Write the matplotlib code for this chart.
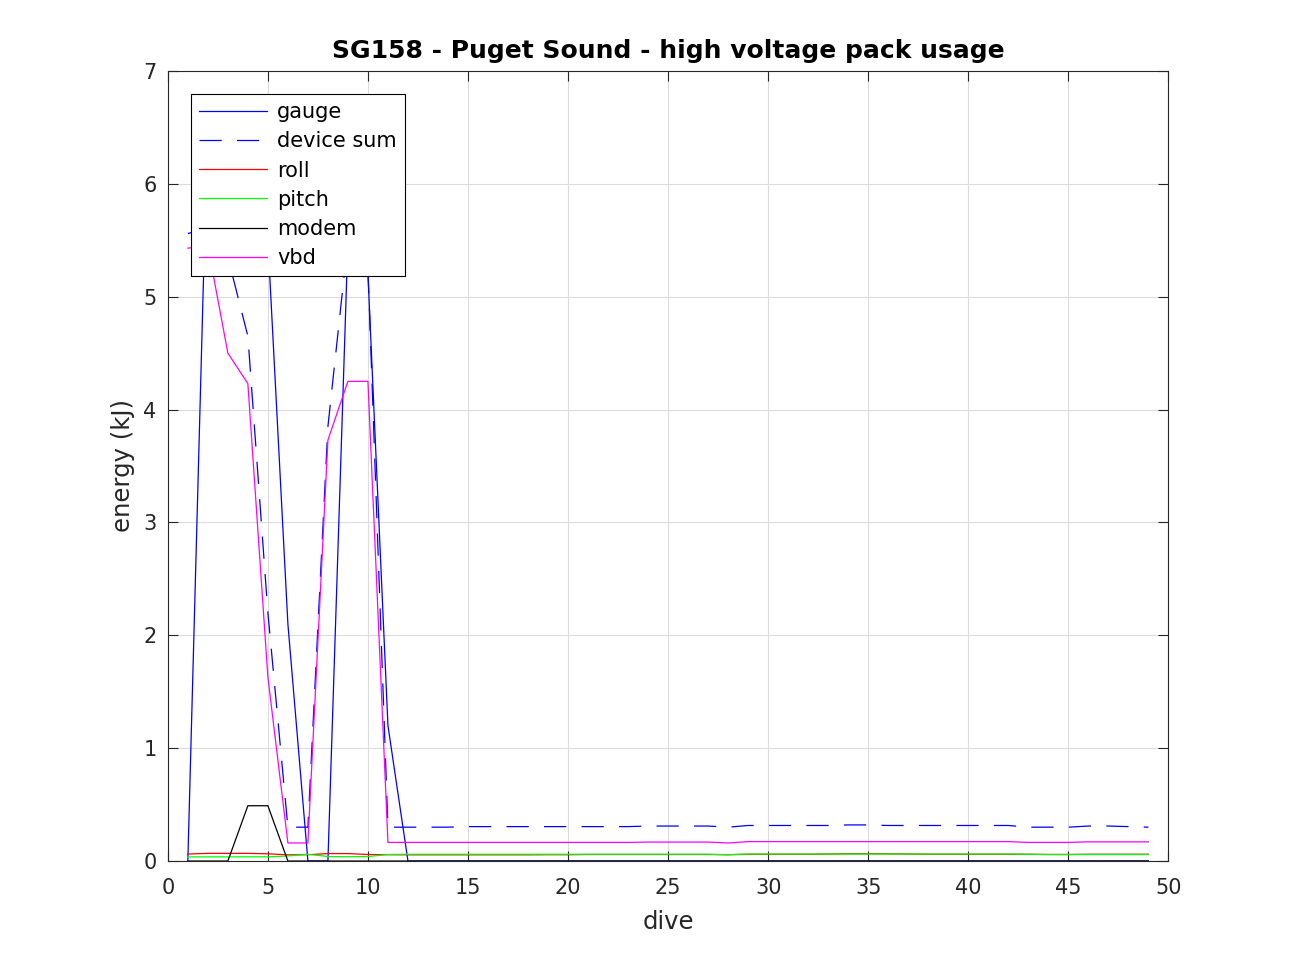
import numpy as np
import matplotlib
matplotlib.use('Agg')
import matplotlib.pyplot as plt

# energy per dive, kJ
dives = list(range(1, 50))

gauge = [0.0, 6.6, 6.4, 6.2, 5.5, 2.1, 0.0, 0.0, 5.5, 5.2, 1.2] + [0.0] * 38

device_sum = [5.56, 5.6, 5.35, 4.65, 2.2, 0.3, 0.3, 3.85, 5.5, 5.25,
              0.30, 0.30, 0.30, 0.30, 0.305, 0.305, 0.305, 0.305, 0.305, 0.305,
              0.305, 0.305, 0.305, 0.31, 0.31, 0.31, 0.31, 0.30, 0.315, 0.315,
              0.315, 0.315, 0.315, 0.32, 0.32, 0.315, 0.315, 0.315, 0.315, 0.315,
              0.315, 0.315, 0.30, 0.30, 0.30, 0.31, 0.31, 0.305, 0.30]

roll = [0.062, 0.068, 0.068, 0.068, 0.064, 0.055, 0.056, 0.066, 0.066, 0.058,
        0.056, 0.055, 0.055, 0.055, 0.055, 0.055, 0.055, 0.055, 0.056, 0.056,
        0.058, 0.058, 0.058, 0.058, 0.058, 0.058, 0.058, 0.056, 0.06, 0.06,
        0.06, 0.06, 0.062, 0.065, 0.065, 0.064, 0.062, 0.06, 0.06, 0.06,
        0.06, 0.06, 0.06, 0.058, 0.058, 0.06, 0.06, 0.06, 0.06]

pitch = [0.036, 0.037, 0.037, 0.037, 0.037, 0.045, 0.06, 0.04, 0.038, 0.04,
         0.058, 0.06, 0.06, 0.06, 0.06, 0.06, 0.06, 0.06, 0.06, 0.06,
         0.06, 0.06, 0.06, 0.06, 0.06, 0.06, 0.06, 0.056, 0.062, 0.062,
         0.062, 0.062, 0.062, 0.062, 0.062, 0.062, 0.062, 0.062, 0.062, 0.062,
         0.062, 0.062, 0.06, 0.058, 0.058, 0.058, 0.058, 0.058, 0.058]

modem = [0.0, 0.0, 0.0, 0.49, 0.49] + [0.0] * 44

vbd = [5.43, 5.45, 4.5, 4.23, 1.63, 0.16, 0.16, 3.73, 4.25, 4.25,
       0.165, 0.165, 0.165, 0.165, 0.165, 0.165, 0.165, 0.165, 0.165, 0.165,
       0.165, 0.165, 0.165, 0.168, 0.168, 0.168, 0.168, 0.16, 0.172, 0.172,
       0.172, 0.172, 0.172, 0.172, 0.172, 0.172, 0.172, 0.172, 0.172, 0.172,
       0.172, 0.172, 0.165, 0.165, 0.165, 0.17, 0.17, 0.17, 0.17]

plt.rcParams['font.family'] = ['DejaVu Sans']
plt.rcParams['lines.scale_dashes'] = False

fig = plt.figure(figsize=(12.91, 9.68), dpi=100)
ax = fig.add_axes([0.130, 0.1105, 0.775, 0.8162])

lw = 0.9
ax.plot(dives, gauge, color='#0000ff', linewidth=lw, label='gauge')
ax.plot(dives, device_sum, color='#0000ff', linewidth=lw, dashes=(16, 11), label='device sum')
ax.plot(dives, roll, color='#ff0000', linewidth=lw, label='roll')
ax.plot(dives, pitch, color='#00ff00', linewidth=lw, label='pitch')
ax.plot(dives, modem, color='black', linewidth=lw, label='modem')
ax.plot(dives, vbd, color='#ff00ff', linewidth=lw, label='vbd')

ax.set_xlim(0, 50)
ax.set_ylim(0, 7)
ax.set_xticks(range(0, 51, 5))
ax.set_yticks(range(0, 8))
ax.grid(True, color='#dcdcdc', linewidth=0.8)
ax.set_axisbelow(True)
ax.tick_params(direction='in', top=True, right=True, length=7, labelsize=15, colors='#262626')
ax.tick_params(axis='x', pad=12.5)
ax.tick_params(axis='y', pad=8)
for s in ax.spines.values():
    s.set_color('#262626')
    s.set_linewidth(0.8)

ax.set_title('SG158 - Puget Sound - high voltage pack usage', fontsize=18, fontweight='bold', pad=9)
ax.set_xlabel('dive', fontsize=17.5, color='#262626', labelpad=8)
ax.set_ylabel('energy (kJ)', fontsize=17.5, color='#262626', labelpad=6)

leg = ax.legend(loc='upper left', bbox_to_anchor=(0.023, 0.971), borderaxespad=0,
                fancybox=False, edgecolor='black', framealpha=1, fontsize=15,
                handlelength=3.27, handletextpad=0.48, labelspacing=0.44,
                borderpad=0.4)
leg.get_frame().set_linewidth(0.8)

fig.savefig('out.png', dpi=100)
